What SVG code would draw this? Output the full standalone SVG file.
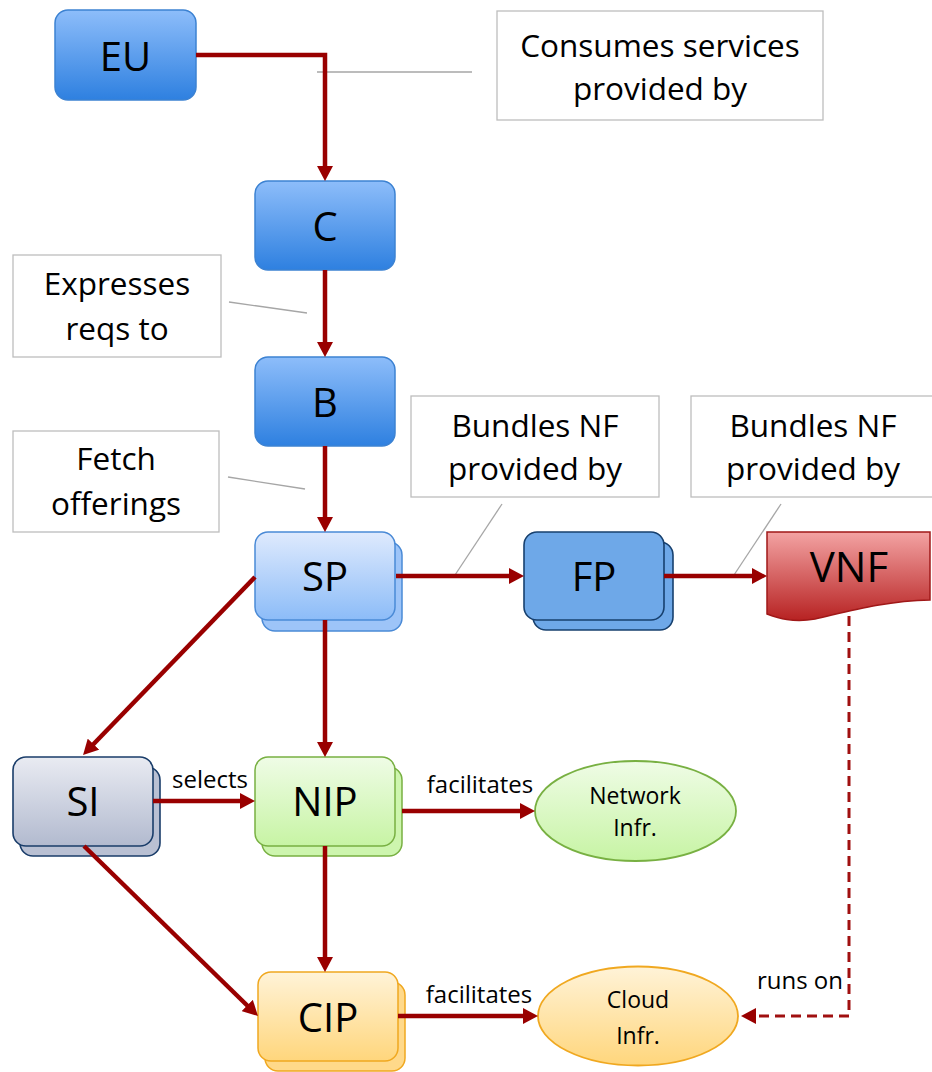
<svg xmlns="http://www.w3.org/2000/svg" width="932" height="1072" viewBox="0 0 932 1072">
<style>
.t{font-family:"Open Sans","Noto Sans","Liberation Sans",sans-serif;fill:#000;text-anchor:middle}
.n{font-size:40px}
.c{font-size:31.5px}
.s{font-size:24px}
.e{font-size:23px}
.box{fill:#fff;stroke:#bdbdbd;stroke-width:1.3}
.call{stroke:#a6a6a6;stroke-width:1.3;fill:none}
.con{stroke:#990000;stroke-width:4.5;fill:none;marker-end:url(#ah)}
.dash{stroke:#a01010;stroke-width:3;fill:none;stroke-dasharray:10,6;marker-end:url(#ah)}
</style>
<defs>
<marker id="ah" markerUnits="userSpaceOnUse" markerWidth="16" markerHeight="16" refX="5" refY="8" orient="auto">
<path d="M0,0 L15,8 L0,16 Z" fill="#990000"/>
</marker>
<linearGradient id="gBlue" x1="0" y1="0" x2="0" y2="1"><stop offset="0" stop-color="#8dbdfa"/><stop offset="1" stop-color="#2e80e0"/></linearGradient>
<linearGradient id="gSP" x1="0" y1="0" x2="0" y2="1"><stop offset="0" stop-color="#dfeafd"/><stop offset="1" stop-color="#8cbcf8"/></linearGradient>
<linearGradient id="gSI" x1="0" y1="0" x2="0" y2="1"><stop offset="0" stop-color="#e9ebf2"/><stop offset="1" stop-color="#b2bacf"/></linearGradient>
<linearGradient id="gNIP" x1="0" y1="0" x2="0" y2="1"><stop offset="0" stop-color="#effce6"/><stop offset="1" stop-color="#c7f4a4"/></linearGradient>
<linearGradient id="gCIP" x1="0" y1="0" x2="0" y2="1"><stop offset="0" stop-color="#fff3d8"/><stop offset="1" stop-color="#ffd67c"/></linearGradient>
<linearGradient id="gVNF" x1="0" y1="0" x2="0" y2="1"><stop offset="0" stop-color="#f3a3a3"/><stop offset="1" stop-color="#b72222"/></linearGradient>
</defs>

<g id="callouts">
<rect class="box" x="497" y="11" width="326" height="109"/>
<text class="t c" x="660" y="57">Consumes services</text>
<text class="t c" x="660" y="100">provided by</text>
<line class="call" x1="317" y1="72" x2="472" y2="72"/>
<rect class="box" x="13" y="255" width="208" height="102"/>
<text class="t c" x="117" y="295">Expresses</text>
<text class="t c" x="117" y="340">reqs to</text>
<line class="call" x1="229" y1="302" x2="307" y2="313"/>
<rect class="box" x="13" y="431" width="206" height="101"/>
<text class="t c" x="116" y="470">Fetch</text>
<text class="t c" x="116" y="515">offerings</text>
<line class="call" x1="228" y1="477" x2="305" y2="489"/>
<rect class="box" x="411" y="396" width="248" height="101"/>
<text class="t c" x="535" y="437">Bundles NF</text>
<text class="t c" x="535" y="480">provided by</text>
<line class="call" x1="502" y1="504" x2="455" y2="575"/>
<rect class="box" x="691" y="396" width="250" height="101"/>
<text class="t c" x="813" y="437">Bundles NF</text>
<text class="t c" x="813" y="480">provided by</text>
<line class="call" x1="781" y1="504" x2="734" y2="575"/>
</g>

<g id="EU">
<rect x="55" y="10" width="141" height="90" rx="13" fill="url(#gBlue)" stroke="#3c82d2" stroke-width="1.5"/>
<text class="t n" x="125.5" y="71">EU</text>
</g>
<g id="C">
<rect x="255" y="181" width="140" height="89" rx="13" fill="url(#gBlue)" stroke="#3c82d2" stroke-width="1.5"/>
<text class="t n" x="325" y="241">C</text>
</g>
<g id="B">
<rect x="255" y="357" width="140" height="89" rx="13" fill="url(#gBlue)" stroke="#3c82d2" stroke-width="1.5"/>
<text class="t n" x="325" y="417">B</text>
</g>
<g id="SP">
<rect x="262" y="542" width="140" height="89" rx="13" fill="#9dc4f8" stroke="#4a8ad6" stroke-width="1.5"/>
<rect x="255" y="532" width="140" height="88" rx="13" fill="url(#gSP)" stroke="#4a8ad6" stroke-width="1.5"/>
<text class="t n" x="325" y="591">SP</text>
</g>
<g id="FP">
<rect x="533" y="542" width="140" height="88" rx="13" fill="#6ea8e8" stroke="#17406e" stroke-width="1.6"/>
<rect x="524" y="532" width="140" height="88" rx="13" fill="#6ea8e8" stroke="#17406e" stroke-width="1.6"/>
<text class="t n" x="594" y="591">FP</text>
</g>
<g id="VNF">
<path d="M767,532 H930 V600 C885,601 850,611 815,619 C793,623 778,618 767,614 Z" fill="url(#gVNF)" stroke="#a01818" stroke-width="1.5"/>
<text class="t n" x="849" y="582" style="font-size:42px">VNF</text>
</g>
<g id="SI">
<rect x="20" y="767" width="140" height="89" rx="13" fill="#b9c0d3" stroke="#1a3d6a" stroke-width="1.6"/>
<rect x="13" y="757" width="140" height="89" rx="13" fill="url(#gSI)" stroke="#1a3d6a" stroke-width="1.6"/>
<text class="t n" x="83" y="816">SI</text>
</g>
<g id="NIP">
<rect x="262" y="767" width="140" height="89" rx="13" fill="#cdf5ae" stroke="#78b042" stroke-width="1.5"/>
<rect x="255" y="757" width="140" height="89" rx="13" fill="url(#gNIP)" stroke="#78b042" stroke-width="1.5"/>
<text class="t n" x="325" y="816">NIP</text>
</g>
<g id="NetworkInfr">
<ellipse cx="635.5" cy="811" rx="100.5" ry="50" fill="url(#gNIP)" stroke="#78b042" stroke-width="1.8"/>
<text class="t e" x="635" y="804">Network</text>
<text class="t e" x="635" y="836">Infr.</text>
</g>
<g id="CIP">
<rect x="265" y="982" width="140" height="89" rx="13" fill="#ffd98a" stroke="#f0a820" stroke-width="1.5"/>
<rect x="258" y="972" width="140" height="89" rx="13" fill="url(#gCIP)" stroke="#f0a820" stroke-width="1.5"/>
<text class="t n" x="328" y="1032">CIP</text>
</g>
<g id="CloudInfr">
<ellipse cx="638" cy="1016" rx="100" ry="49.5" fill="url(#gCIP)" stroke="#f0a820" stroke-width="1.8"/>
<text class="t e" x="638" y="1008">Cloud</text>
<text class="t e" x="638" y="1044">Infr.</text>
</g>

<g id="connectors">
<path class="con" d="M196,55 H325 V171"/>
<path class="con" d="M325,270 V347"/>
<path class="con" d="M325,446 V522"/>
<path class="con" d="M396,576 H514"/>
<path class="con" d="M664,576 H757"/>
<path class="con" d="M255,577 L90,747.8"/>
<path class="con" d="M325,620 V747"/>
<path class="con" d="M153,801 H245"/>
<path class="con" d="M402,811 H525"/>
<path class="con" d="M325,846 V962"/>
<path class="con" d="M84,846 L250.8,1009"/>
<path class="con" d="M398,1016 H528"/>
<path class="dash" d="M849,616 V1016 H751"/>
<text class="t s" x="210" y="788">selects</text>
<text class="t s" x="480" y="793">facilitates</text>
<text class="t s" x="479" y="1003">facilitates</text>
<text class="t s" x="800" y="989">runs on</text>
</g>
</svg>
